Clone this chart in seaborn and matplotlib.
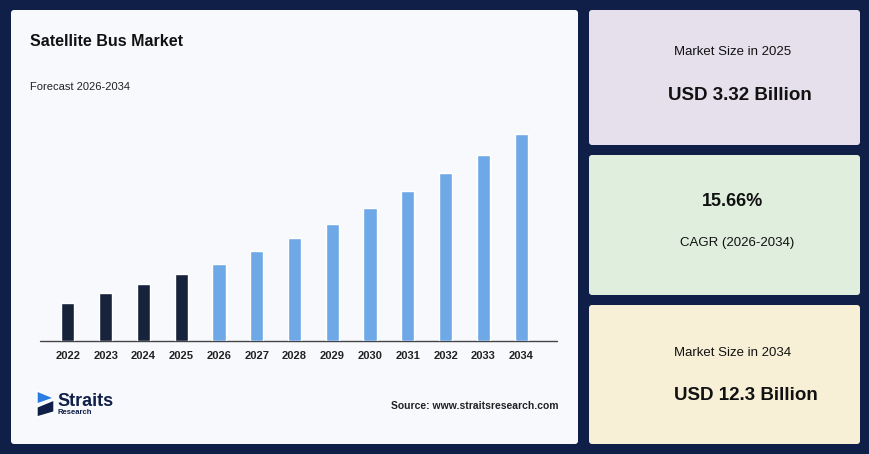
import matplotlib
matplotlib.use("Agg")
import matplotlib.pyplot as plt
from matplotlib.patches import FancyBboxPatch, Polygon
import seaborn as sns
import pandas as pd

years = ["2022", "2023", "2024", "2025", "2026", "2027", "2028",
         "2029", "2030", "2031", "2032", "2033", "2034"]
values = [1.9, 2.4, 2.8, 3.32, 3.8, 4.45, 5.1, 5.8, 6.6, 7.45, 8.3, 9.2, 10.25]
kind = ["hist"] * 4 + ["fc"] * 9

W, H = 870, 454
sns.set_theme(style="white")
plt.rcParams['font.family'] = ['Liberation Sans', 'DejaVu Sans']

fig = plt.figure(figsize=(W / 100, H / 100), dpi=100)
fig.patch.set_facecolor("#0f1f48")

def px(x0, y0, x1, y1):
    return [x0 / W, 1 - y1 / H, (x1 - x0) / W, (y1 - y0) / H]

bg = fig.add_axes([0, 0, 1, 1])
bg.set_xlim(0, W)
bg.set_ylim(H, 0)
bg.axis("off")

# panels
bg.add_patch(FancyBboxPatch((11, 10), 567, 434, boxstyle="round,pad=0,rounding_size=3",
                            fc="#f8f9fd", ec="none"))
boxes = [(10, 145, "#e6e0ec"), (155, 295, "#dfeedd"), (305, 444, "#f7f0d7")]
for y0, y1, c in boxes:
    bg.add_patch(FancyBboxPatch((589, y0), 271, y1 - y0,
                                boxstyle="round,pad=0,rounding_size=3", fc=c, ec="none"))

bg.text(30, 42, "Satellite Bus Market", fontsize=11.5, fontweight="bold", color="#111", va="center")
bg.text(30, 87, "Forecast 2026-2034", fontsize=8, color="#222", va="center")
bg.text(559, 406, "Source: www.straitsresearch.com", fontsize=7.5, fontweight="bold",
        color="#222", ha="right", va="center")

# logo
bg.add_patch(Polygon([[37, 391], [54, 398], [37, 404]], fc="#2a7de1"))
bg.add_patch(Polygon([[37, 407], [54, 400], [54, 412], [37, 417]], fc="#0f1f48"))
bg.text(57, 401, "Straits", fontsize=13, fontweight="bold", color="#0f1f48", va="center")
bg.text(58, 413, "Research", fontsize=5.5, fontweight="bold", color="#0f1f48", va="center")

# right cards
bg.text(733, 52, "Market Size in 2025", fontsize=9.5, color="#111", ha="center", va="center")
bg.text(740, 95, "USD 3.32 Billion", fontsize=13.5, fontweight="bold", color="#111", ha="center", va="center")
bg.text(733, 202, "15.66%", fontsize=13, fontweight="bold", color="#111", ha="center", va="center")
bg.text(737, 243, "CAGR (2026-2034)", fontsize=9.5, color="#111", ha="center", va="center")
bg.text(733, 353, "Market Size in 2034", fontsize=9.5, color="#111", ha="center", va="center")
bg.text(746, 396, "USD 12.3 Billion", fontsize=13.5, fontweight="bold", color="#111", ha="center", va="center")

# bar chart
df = pd.DataFrame({"year": years, "value": values, "kind": kind})
ax = fig.add_axes(px(49, 120, 540, 341))
ax.set_facecolor("none")
sns.barplot(data=df, x="year", y="value", hue="kind",
            palette={"hist": "#17223b", "fc": "#6fa8e6"}, saturation=1,
            width=0.35, dodge=False, legend=False, ax=ax)
ax.set_ylim(0, values[-1] * 221 / 207)
ax.set_xlim(-0.5, len(years) - 0.5)
ax.set_xlabel("")
ax.set_ylabel("")
ax.set_yticks([])
for s in ["top", "right", "left", "bottom"]:
    ax.spines[s].set_visible(False)
ax.tick_params(axis="x", length=0, pad=7, labelsize=8)
for t in ax.get_xticklabels():
    t.set_fontweight("bold")
    t.set_color("#222")
bg.plot([40, 557], [341, 341], color="#444", lw=1)

fig.savefig("out.png", dpi=100, facecolor=fig.get_facecolor())
